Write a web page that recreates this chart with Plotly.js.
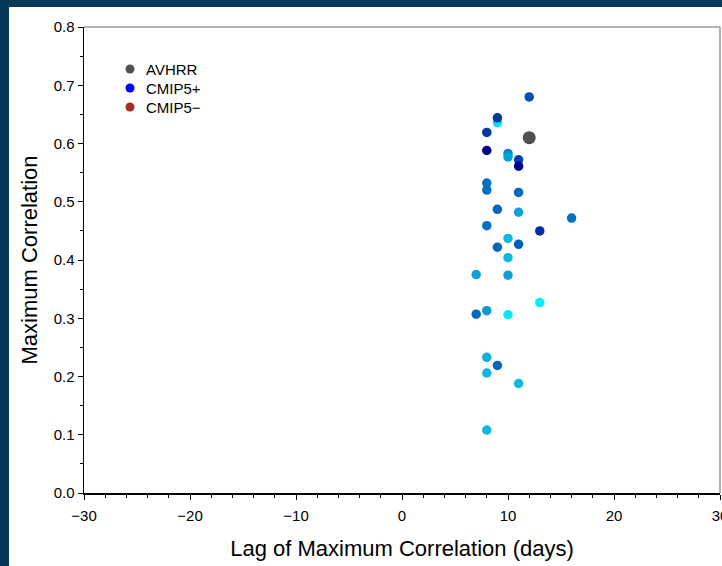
<!DOCTYPE html>
<html>
<head>
<meta charset="utf-8">
<script src="https://cdn.plot.ly/plotly-3.0.1.min.js"></script>
<style>
  html, body { margin:0; padding:0; background:#06385a; width:722px; height:566px; overflow:hidden; }
  #chart { position:absolute; left:9px; top:7px; width:740px; height:559px; background:#ffffff; }
</style>
</head>
<body>
<div id="chart"></div>
<script>
// AVHRR observation
const avhrrLag = [12];
const avhrrCorr = [0.610];

// CMIP5 models (positive lag)
const cmipLag = [12, 9, 9, 8, 8, 10, 10, 11, 11, 8, 8, 11, 9, 11, 16, 8, 13, 10, 11, 9, 10, 7, 10, 13, 7, 8, 10, 8, 9, 8, 11, 8];
const cmipCorr = [0.680, 0.636, 0.644, 0.619, 0.588, 0.583, 0.577, 0.572, 0.561, 0.532, 0.520, 0.516, 0.487, 0.482, 0.472, 0.459, 0.450, 0.437, 0.427, 0.422, 0.404, 0.375, 0.374, 0.327, 0.307, 0.313, 0.306, 0.233, 0.219, 0.206, 0.188, 0.108];
const cmipColors = ['#0050b8', '#00e0f0', '#0038a0', '#0038a0', '#000080', '#0088cc', '#00a0d8', '#0040a8', '#000090', '#0070c0', '#0070c0', '#0068c0', '#0068c0', '#10a0d8', '#0070c0', '#0070c0', '#0030a0', '#10b8e0', '#0060b8', '#0068c0', '#10b8e0', '#10a0d8', '#10a0d8', '#00f0f8', '#0068c0', '#1098d0', '#00e8f8', '#10b0e0', '#0068c0', '#10b8e0', '#10b8e0', '#10b8e0'];

const legendNames = ['AVHRR', 'CMIP5+', 'CMIP5\u2212'];
const legendColors = ['#505050', '#0000ff', '#a52a2a'];

const traces = [
  { x: cmipLag, y: cmipCorr, type: 'scatter', mode: 'markers', showlegend: false,
    marker: { size: 9.5, color: cmipColors }, hoverinfo: 'x+y' },
  { x: avhrrLag, y: avhrrCorr, type: 'scatter', mode: 'markers', showlegend: false,
    marker: { size: 13, color: legendColors[0] } }
];

// manual legend (plot area: 636 x 466 px)
const legX = 46 / 636, legTextX = 60 / 636, legY0 = 1 - 42 / 466, legDy = 19 / 466;
const legendShapes = [], legendAnns = [];
legendNames.forEach((n, i) => {
  const y = legY0 - i * legDy;
  legendShapes.push({ type: 'circle', xref: 'paper', yref: 'paper', xsizemode: 'pixel', ysizemode: 'pixel',
    xanchor: legX, yanchor: y, x0: -4.5, x1: 4.5, y0: -4.5, y1: 4.5,
    fillcolor: legendColors[i], line: { width: 0 } });
  legendAnns.push({ xref: 'paper', yref: 'paper', x: legTextX, y: y, xanchor: 'left', yanchor: 'middle',
    text: n, showarrow: false, font: { size: 15, color: '#000000' } });
});

const font = "'Liberation Sans', Arial, Helvetica, sans-serif";
const layout = {
  width: 740, height: 559,
  paper_bgcolor: '#ffffff', plot_bgcolor: '#ffffff',
  margin: { l: 75, r: 29, t: 20, b: 73 },
  font: { family: font, color: '#000000', size: 15 },
  showlegend: false,
  xaxis: {
    range: [-30, 30], dtick: 10, tick0: -30, showgrid: false, zeroline: false,
    showline: true, linecolor: '#000000', linewidth: 1.5,
    ticks: 'outside', ticklen: 5, tickcolor: '#000000', tickwidth: 1,
    minor: { dtick: 2, ticks: 'outside', ticklen: 3, tickcolor: '#000000', showgrid: false },
    tickfont: { size: 15 }, ticklabelstandoff: 3,
    title: { text: 'Lag of Maximum Correlation (days)', font: { size: 22 }, standoff: 18 }
  },
  yaxis: {
    range: [0, 0.8], dtick: 0.1, tick0: 0, tickformat: '.1f', showgrid: false, zeroline: false,
    showline: true, linecolor: '#000000', linewidth: 1.5,
    ticks: 'outside', ticklen: 5, tickcolor: '#000000', tickwidth: 1,
    minor: { dtick: 0.05, ticks: 'outside', ticklen: 3, tickcolor: '#000000', showgrid: false },
    tickfont: { size: 15 },
    title: { text: 'Maximum Correlation', font: { size: 22 }, standoff: 10 }
  },
  annotations: legendAnns,
  shapes: [
    { type: 'line', xref: 'paper', yref: 'paper', x0: 0, x1: 1, y0: 1, y1: 1, line: { color: '#999999', width: 1.5 } },
    { type: 'line', xref: 'paper', yref: 'paper', x0: 1, x1: 1, y0: 0, y1: 1, line: { color: '#999999', width: 1.5 } }
  ].concat(legendShapes)
};

Plotly.newPlot('chart', traces, layout, { displayModeBar: false, staticPlot: true });
</script>
</body>
</html>
